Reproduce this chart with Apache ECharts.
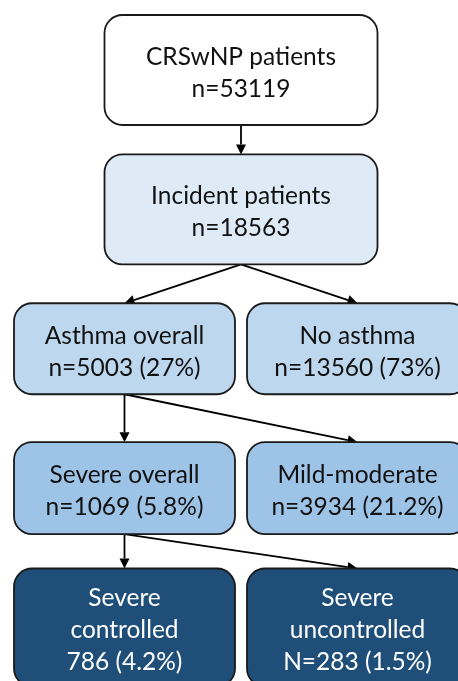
<!DOCTYPE html>
<html>
<head>
<meta charset="utf-8">
<title>CRSwNP flowchart</title>
<script src="https://cdn.jsdelivr.net/npm/echarts@6/dist/echarts.min.js"></script>
<style>
  html, body { margin: 0; padding: 0; background: #ffffff; }
  #chart { width: 458px; height: 681px; }
</style>
</head>
<body>
<div id="chart"></div>
<script>
// 节点数据
const nodeNames = ["CRSwNP patients", "Incident patients", "Asthma overall", "No asthma",
  "Severe overall", "Mild-moderate", "Severe\ncontrolled", "Severe\nuncontrolled"];
const nodeCounts = [53119, 18563, 5003, 13560, 1069, 3934, 786, 283];
const nodePercents = ["", "", "27%", "73%", "5.8%", "21.2%", "4.2%", "1.5%"];
const countPrefix = ["n=", "n=", "n=", "n=", "n=", "n=", "", "N="];
// tree structure: level (row) and side (0 left, 1 right, 0.5 centred)
const nodeLevel = [0, 1, 2, 2, 3, 3, 4, 4];
const nodeSide = [0.5, 0.5, 0, 1, 0, 1, 0, 1];
const linkFrom = [0, 1, 1, 2, 2, 4, 4];
const linkTo = [1, 2, 3, 4, 5, 6, 7];

// 样式
const levelHeight = [110, 110, 91, 92, 118];
const levelFill = ["#ffffff", "#deebf7", "#bdd7ee", "#9dc3e6", "#1f4e79"];
const levelText = ["#111111", "#111111", "#111111", "#111111", "#ffffff"];
const wideBox = 273;
const narrowBox = 221;
const fontFamily = "Lato, 'Open Sans', sans-serif";

function boxWidth(i) {
  return nodeSide[i] === 0.5 ? wideBox : narrowBox;
}

function nodeLabel(i) {
  let txt = nodeNames[i] + "\n" + countPrefix[i] + nodeCounts[i];
  if (nodePercents[i]) txt += " (" + nodePercents[i] + ")";
  return txt;
}

const nodeData = nodeNames.map((n, i) => [nodeSide[i], nodeLevel[i], i]);
const linkData = linkFrom.map((f, i) => [f, linkTo[i]]);

let option = {
  animation: false,
  grid: {
    left: 124.5,
    right: 100.5,
    top: 70,
    bottom: 53.5
  },
  xAxis: { type: "value", min: 0, max: 1, show: false },
  yAxis: { type: "value", min: 0, max: 4, inverse: true, show: false },
  series: [
    {
      type: "custom",
      name: "links",
      data: linkData,
      z: 1,
      renderItem: function (params, api) {
        const f = api.value(0);
        const t = api.value(1);
        const p0 = api.coord([nodeSide[f], nodeLevel[f]]);
        const p1 = api.coord([nodeSide[t], nodeLevel[t]]);
        const x0 = p0[0];
        const y0 = p0[1] + levelHeight[nodeLevel[f]] / 2;
        const x1 = p1[0];
        const y1 = p1[1] - levelHeight[nodeLevel[t]] / 2;
        const dx = x1 - x0, dy = y1 - y0;
        const len = Math.sqrt(dx * dx + dy * dy);
        const ux = dx / len, uy = dy / len;
        const headLen = 10, headHalf = 5;
        const bx = x1 - ux * headLen, by = y1 - uy * headLen;
        return {
          type: "group",
          children: [
            {
              type: "line",
              shape: { x1: x0, y1: y0, x2: bx, y2: by },
              style: { stroke: "#000000", lineWidth: 1.8 }
            },
            {
              type: "polygon",
              shape: {
                points: [
                  [x1, y1],
                  [bx - uy * headHalf, by + ux * headHalf],
                  [bx + uy * headHalf, by - ux * headHalf]
                ]
              },
              style: { fill: "#000000" }
            }
          ]
        };
      }
    },
    {
      type: "custom",
      name: "nodes",
      data: nodeData,
      z: 2,
      renderItem: function (params, api) {
        const i = api.value(2);
        const c = api.coord([api.value(0), api.value(1)]);
        const lv = nodeLevel[i];
        const w = boxWidth(i);
        const h = levelHeight[lv];
        return {
          type: "group",
          children: [
            {
              type: "rect",
              shape: { x: c[0] - w / 2, y: c[1] - h / 2, width: w, height: h, r: 18 },
              style: { fill: levelFill[lv], stroke: "#1a1a1a", lineWidth: 1.8 }
            },
            {
              type: "text",
              style: {
                text: nodeLabel(i),
                x: c[0],
                y: c[1] + 3,
                align: "center",
                verticalAlign: "middle",
                fontFamily: fontFamily,
                fontSize: 24.5,
                lineHeight: 32,
                fill: levelText[lv]
              }
            }
          ]
        };
      }
    }
  ]
};

let myChart = echarts.init(document.getElementById("chart"));
myChart.setOption(option);
</script>
</body>
</html>
